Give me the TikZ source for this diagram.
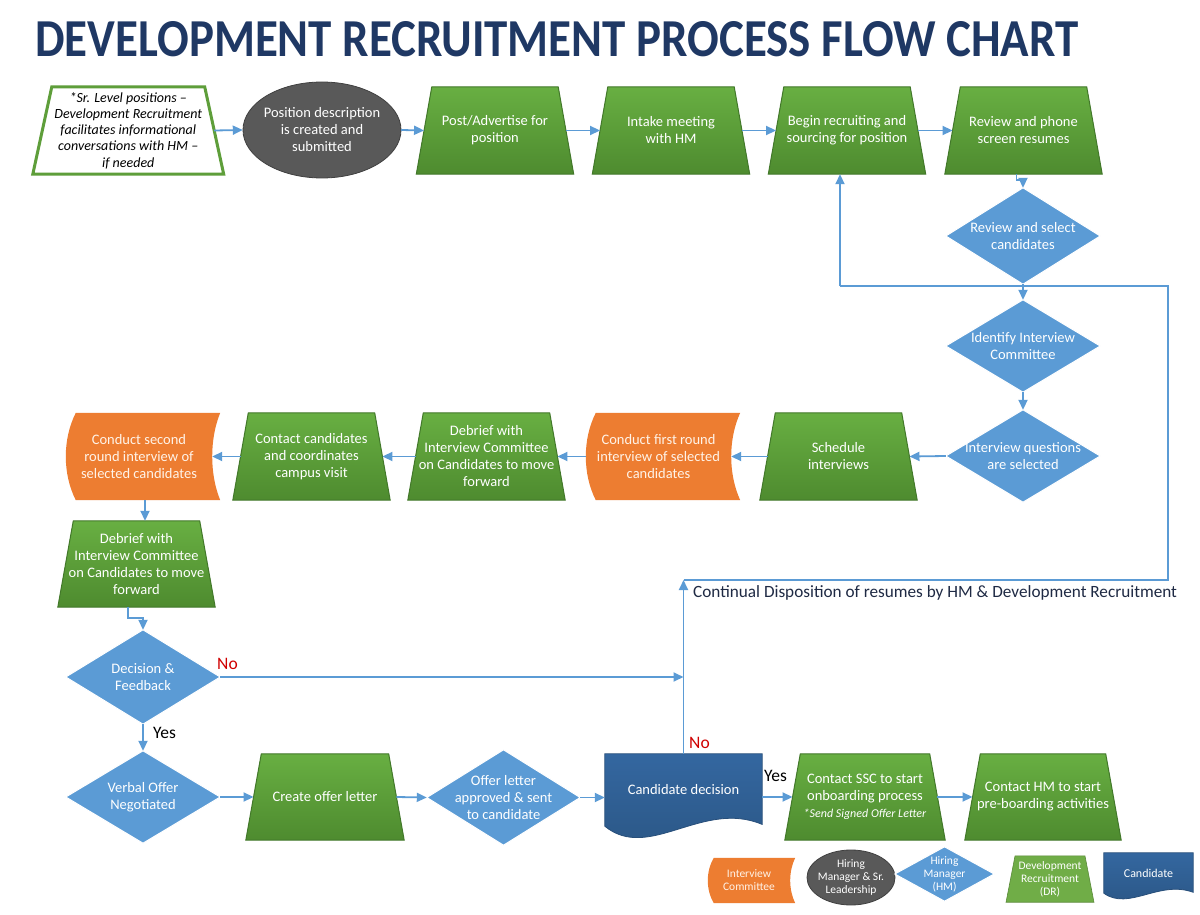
\documentclass[tikz,border=0pt]{standalone}
\usepackage{fontspec}
\setmainfont{Carlito}
\usetikzlibrary{arrows.meta,backgrounds,calc}
\definecolor{gtop}{HTML}{68AF42}
\definecolor{gbot}{HTML}{4E8B2F}
\definecolor{gline}{HTML}{42782A}
\definecolor{lgreen}{HTML}{70AD47}
\definecolor{srline}{HTML}{5E9E3A}
\definecolor{dblue}{HTML}{5B9BD5}
\definecolor{orng}{HTML}{ED7D31}
\definecolor{otext}{HTML}{FFF3E8}
\definecolor{dgray}{HTML}{595959}
\definecolor{dgrayb}{HTML}{404040}
\definecolor{navy}{HTML}{1F3864}
\definecolor{cblue}{HTML}{3467A0}
\definecolor{cblueb}{HTML}{2A5583}
\definecolor{cbline}{HTML}{284F7A}
\definecolor{txtnavy}{HTML}{1F2A44}
\definecolor{nored}{HTML}{D00000}
\newcommand\TrapShape[3][greenfill]{\path[#1] ([xshift=-#3pt]#2.south west) -- ([xshift=#3pt]#2.north west) -- ([xshift=-#3pt]#2.north east) -- ([xshift=#3pt]#2.south east) -- cycle;}
\newcommand\DiaShape[2][diafill]{\path[#1] (#2.north) -- (#2.east) -- (#2.south) -- (#2.west) -- cycle;}
\newcommand\OrgShape[3]{\path[orgfill] ([xshift=#2pt]#1.north west) -- ([xshift=#3pt]#1.north east)
  .. controls ($(#1.north east)!0.3!(#1.south east)+({-#3/3},0)$) and ($(#1.south east)!0.3!(#1.north east)+({-#3/3},0)$) .. ([xshift=#3pt]#1.south east)
  -- ([xshift=#2pt]#1.south west)
  .. controls ($(#1.south west)!0.3!(#1.north west)+({-#2/3},0)$) and ($(#1.north west)!0.3!(#1.south west)+({-#2/3},0)$) .. cycle;}
\newcommand\DocShape[3][docfill]{\path[#1] (#2.north west) -- (#2.north east) -- ($(#2.south east)+(0,{-0.05*#3})$)
  .. controls ($(#2.south west)!0.62!(#2.south east)+(0,{-0.75*#3})$) and ($(#2.south west)!0.28!(#2.south east)+(0,{#3})$) .. (#2.south west) -- cycle;}
\begin{document}
\begin{tikzpicture}[x=1pt,y=-1pt,
  base/.style={draw=none, inner sep=0pt, align=center, text=white, font=\fontsize{14.5}{17}\selectfont},
  trapnode/.style={base, minimum width=141.5pt, minimum height=87pt},
  dianode/.style={base, minimum width=154pt, minimum height=94pt},
  orgnode/.style={base, text=otext, minimum height=87pt},
  legnode/.style={base, font=\fontsize{11.5}{13}\selectfont},
  lbl/.style={inner sep=0pt, font=\fontsize{17.5}{20}\selectfont, text=black},
  arr/.style={draw=dblue, line width=1.8pt, -{Triangle[length=10pt,width=9pt]}},
  loopline/.style={draw=dblue, line width=1.6pt},
  greenfill/.style={top color=gtop, bottom color=gbot, draw=gline, line width=1pt},
  lgreenfill/.style={fill=lgreen, draw=lgreen!80!black, line width=0.6pt},
  srfill/.style={fill=white, draw=srline, line width=3pt},
  diafill/.style={fill=dblue, draw=white, line width=1pt},
  ellfill/.style={fill=dgray, draw=dgrayb, line width=0.8pt},
  orgfill/.style={fill=orng},
  docfill/.style={top color=cblue, bottom color=cblueb, draw=cbline, line width=0.8pt}]
\useasboundingbox (0,0) rectangle (1200,915);

% title
\node[anchor=base west, inner sep=0pt, text=navy] (title) at (35,57) {\resizebox{1043pt}{35pt}{\bfseries DEVELOPMENT RECRUITMENT PROCESS FLOW CHART}};

% top row
\node[base, text=black, minimum width=171.5pt, minimum height=87pt, font=\itshape\fontsize{14}{16.3}\selectfont] (sr) at (128.25,130.5) {*Sr. Level positions –\\Development Recruitment\\facilitates informational\\conversations with HM –\\if needed};
\node[base, minimum width=158pt, minimum height=96pt] (pd) at (322,130) {Position description\\is created and\\submitted};
\node[trapnode] (post) at (495,130.5) {Post/Advertise for\\position};
\node[trapnode] (intake) at (671,130.5) {Intake meeting\\with HM};
\node[trapnode] (begin) at (847,130.5) {Begin recruiting and\\sourcing for position};
\node[trapnode] (review) at (1023.5,130.5) {Review and phone\\screen resumes};

% right column diamonds
\node[dianode, minimum height=96pt] (sel) at (1023,236) {Review and select\\candidates};
\node[dianode, minimum height=92pt] (idc) at (1023,346) {Identify Interview\\Committee};
\node[dianode, minimum height=92pt] (iq) at (1023,456) {Interview questions\\are selected};

% middle row
\node[trapnode] (sched) at (838.5,456.5) {Schedule\\interviews};
\node[orgnode, minimum width=145pt] (r1) at (658.5,456.5) {Conduct first round\\interview of selected\\candidates};
\node[trapnode] (deb1) at (486.5,456.5) {Debrief with\\Interview Committee\\on Candidates to move\\forward};
\node[trapnode] (contact) at (311.5,456.5) {Contact candidates\\and coordinates\\campus visit};
\node[orgnode, minimum width=146pt] (r2) at (139,456.5) {Conduct second\\round interview of\\selected candidates};
\node[trapnode, minimum height=86pt] (deb2) at (136.5,564) {Debrief with\\Interview Committee\\on Candidates to move\\forward};

% bottom rows
\node[dianode] (dec) at (143,677) {Decision \&\\Feedback};
\node[dianode, minimum height=92pt] (verbal) at (143,797) {Verbal Offer\\Negotiated};
\node[trapnode, minimum width=142.5pt, minimum height=86pt] (create) at (325,797) {Create offer letter};
\node[dianode, minimum width=153pt, minimum height=95pt] (ol) at (503.5,797.5) {Offer letter\\approved \& sent\\to candidate};
\node[base, minimum width=157pt, minimum height=72pt] (cand) at (683.5,790) {Candidate decision};
\node[trapnode, minimum width=144.5pt, minimum height=86pt] (ssc) at (865,797) {Contact SSC to start\\onboarding process\\{\fontsize{12}{15}\itshape *Send Signed Offer Letter}};
\node[trapnode, minimum width=140.5pt, minimum height=86pt] (hm) at (1043,797) {Contact HM to start\\pre-boarding activities};

% labels
\node[lbl, text=nored, anchor=west] (no1) at (217,664) {No};
\node[lbl, anchor=west] (yes1) at (153,733) {Yes};
\node[lbl, text=nored, anchor=west] (no2) at (689,743) {No};
\node[lbl, anchor=west] (yes2) at (764,776) {Yes};
\node[anchor=west, inner sep=0pt, text=txtnavy, font=\fontsize{17.2}{20}\selectfont] (cont) at (693,593) {Continual Disposition of resumes by HM \& Development Recruitment};

% legend
\node[legnode, text=otext, minimum width=82pt, minimum height=45pt] (lg1) at (749,880.5) {Interview\\Committee};
\node[legnode, minimum width=88pt, minimum height=55pt] (lg2) at (851,877.5) {Hiring\\Manager \& Sr.\\Leadership};
\node[legnode, minimum width=99pt, minimum height=54pt] (lg3) at (944.5,874) {Hiring\\Manager\\(HM)};
\node[legnode, minimum width=78.5pt, minimum height=46pt] (lg4) at (1050,879) {Development\\Recruitment\\(DR)};
\node[legnode, minimum width=89pt, minimum height=40pt, font=\fontsize{12}{13}\selectfont] (lg5) at (1148.5,873) {Candidate};

% shapes behind nodes
\begin{scope}[on background layer]
  \fill[white] (0,0) rectangle (1200,915);
  \TrapShape[srfill]{sr}{9.5}
  \path[ellfill] (pd.center) ellipse [x radius=79pt, y radius=48pt];
  \TrapShape{post}{7.75}
  \TrapShape{intake}{7.75}
  \TrapShape{begin}{7.75}
  \TrapShape{review}{7.75}
  \DiaShape{sel}
  \DiaShape{idc}
  \DiaShape{iq}
  \TrapShape{sched}{7.75}
  \OrgShape{r1}{10}{9}
  \TrapShape{deb1}{7.75}
  \TrapShape{contact}{7.75}
  \OrgShape{r2}{10}{8}
  \TrapShape{deb2}{7.75}
  \DiaShape{dec}
  \DiaShape{verbal}
  \TrapShape{create}{7.75}
  \DiaShape{ol}
  \DocShape{cand}{36}
  \TrapShape{ssc}{7.75}
  \TrapShape{hm}{7.75}
  \OrgShape{lg1}{6}{5}
  \path[ellfill] (lg2.center) ellipse [x radius=44pt, y radius=27.5pt];
  \DiaShape{lg3}
  \TrapShape[lgreenfill]{lg4}{4.5}
  \DocShape{lg5}{18}
\end{scope}

% connectors
\draw[arr] (sr.east) -- (pd.west);
\draw[arr] (pd.east) -- (post.west);
\draw[arr] (post.east) -- (intake.west);
\draw[arr] (intake.east) -- (begin.west);
\draw[arr] (begin.east) -- (review.west);
\draw[arr] ([xshift=-7pt]review.south) -- ++(0,6) -| (sel.north);
\draw[arr] (sel.south) -- (idc.north);
\draw[arr] (idc.south) -- (iq.north);
\draw[arr] (iq.west) -- (sched.east);
\draw[arr] (sched.west) -- (r1.east);
\draw[arr] (r1.west) -- (deb1.east);
\draw[arr] (deb1.west) -- (contact.east);
\draw[arr] (contact.west) -- (r2.east);
\draw[arr] ([xshift=6pt]r2.south) -- ([xshift=6pt]r2.south |- deb2.north);
\draw[arr] ([xshift=-8.5pt]deb2.south) -- ++(0,11) -| (dec.north);
\draw[arr] (dec.south) -- (verbal.north);
\draw[arr] (verbal.east) -- (create.west);
\draw[arr] (create.east) -- (ol.west);
\draw[arr] (ol.east) -- (ol.east -| cand.west);
\draw[arr] (ssc.west -| cand.east) -- (ssc.west);
\draw[arr] (ssc.east) -- (hm.west);
\draw[arr] (dec.east) -- (dec.east -| cand.north);
\coordinate (lpA) at (683.5,580);
\coordinate (lpB) at (1168,580);
\coordinate (lpC) at (1168,286);
\coordinate (lpD) at (840,286);
\draw[arr] (cand.north) -- (lpA);
\draw[loopline] (lpA) -- (lpB) -- (lpC) -- (lpD);
\draw[arr] (lpD) -- (lpD |- begin.south);
\end{tikzpicture}
\end{document}
